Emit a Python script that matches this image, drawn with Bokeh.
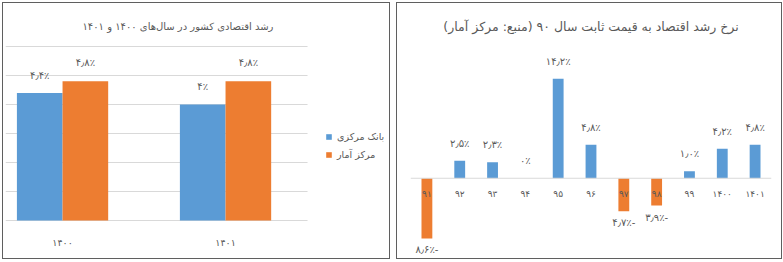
from bokeh.plotting import figure
from bokeh.models import (ColumnDataSource, FixedTicker, Legend, LegendItem,
                          Span, Range1d, BoxAnnotation)
from bokeh.layouts import row, column
from bokeh.transform import dodge
from bokeh.core.properties import value
from bokeh.embed import file_html
from bokeh.resources import INLINE

# ---------------- data ----------------
# left chart: growth 1400 & 1401 by source
left_title = "رشد اقتصادی کشور در سال‌های ۱۴۰۰ و ۱۴۰۱"
years_left = ["۱۴۰۰", "۱۴۰۱"]
series_names = ["بانک مرکزی", "مرکز آمار"]
cbi_growth = [4.4, 4.0]
sci_growth = [4.8, 4.8]
cbi_labels = ["۴٫۴٪", "۴٪"]
sci_labels = ["۴٫۸٪", "۴٫۸٪"]
left_grid_ticks = [0, 1, 2, 3, 4, 5, 6]

# right chart: growth at constant 1390 prices
right_title = "نرخ رشد اقتصاد به قیمت ثابت سال ۹۰ (منبع: مرکز آمار)"
years_right = ["۹۱", "۹۲", "۹۳", "۹۴", "۹۵", "۹۶", "۹۷", "۹۸", "۹۹", "۱۴۰۰", "۱۴۰۱"]
growth_right = [-8.6, 2.5, 2.3, 0.0, 14.2, 4.8, -4.7, -3.9, 1.0, 4.2, 4.8]
labels_right = ["۸٫۶٪-", "۲٫۵٪", "۲٫۳٪", "۰٪", "۱۴٫۲٪", "۴٫۸٪", "۴٫۷٪-", "۳٫۹٪-", "۱٫۰٪", "۴٫۲٪", "۴٫۸٪"]

# ---------------- style ----------------
BLUE = "#5B9BD5"
ORANGE = "#ED7D31"
TXT = "#595959"
GRID = "#d9d9d9"
FONT = "DejaVu Sans"
RLM = "\u200F"
BOX = {"border": "1px solid #5f5f5f", "background-color": "white"}

# ---------------- left chart ----------------
idx_l = list(range(len(years_left)))
zeros_l = [0] * len(idx_l)
src_l = ColumnDataSource(dict(idx=idx_l, zero=zeros_l, year=years_left,
                              cbi=cbi_growth, sci=sci_growth,
                              cbi_lbl=cbi_labels, sci_lbl=sci_labels))

pL = figure(width=386, height=255, x_range=Range1d(-0.35, 2.006), y_range=Range1d(-1.241, 6.034),
            output_backend="svg", toolbar_location=None,
            min_border_left=2, min_border_right=0, min_border_top=42, min_border_bottom=2)
pL.outline_line_color = None
pL.title.text = left_title
pL.title.align = "left"
pL.title.offset = 77
pL.title.standoff = 28
pL.title.text_font = FONT
pL.title.text_font_size = "10px"
pL.title.text_font_style = "normal"
pL.title.text_color = TXT

pL.xaxis.visible = False
pL.yaxis.visible = False
pL.xgrid.visible = False
pL.ygrid.ticker = FixedTicker(ticks=left_grid_ticks)
pL.ygrid.grid_line_color = GRID
# plot area ends before the legend: mask the gridlines there
pL.add_layout(BoxAnnotation(left=1.503, fill_color="white", fill_alpha=1.0,
                            line_color=None, level="underlay"))

w = 0.28
r_cbi = pL.vbar(x=dodge("idx", -w / 2), top="cbi", width=w, bottom=0, source=src_l,
                fill_color=BLUE, line_color=None)
r_sci = pL.vbar(x=dodge("idx", w / 2), top="sci", width=w, bottom=0, source=src_l,
                fill_color=ORANGE, line_color=None)
pL.text(x=dodge("idx", -w / 2), y="cbi", text="cbi_lbl", source=src_l,
        text_align="center", text_baseline="bottom", y_offset=-12,
        text_font=value(FONT), text_font_size="10px", text_color=TXT)
pL.text(x=dodge("idx", w / 2), y="sci", text="sci_lbl", source=src_l,
        text_align="center", text_baseline="bottom", y_offset=-13,
        text_font=value(FONT), text_font_size="10px", text_color=TXT)
pL.text(x="idx", y="zero", text="year", source=src_l,
        text_align="center", text_baseline="middle", y_offset=22,
        text_font=value(FONT), text_font_size="9.5px", text_color=TXT)

legend = Legend(items=[LegendItem(label=series_names[0], renderers=[r_cbi]),
                       LegendItem(label=series_names[1], renderers=[r_sci])],
                location=(320, 95), orientation="vertical",
                glyph_width=7, glyph_height=7, label_height=14, spacing=4,
                label_standoff=5, padding=0, margin=0,
                border_line_color=None, background_fill_alpha=0,
                label_text_font=FONT, label_text_font_size="9.5px",
                label_text_color=TXT)
pL.add_layout(legend, "center")

# ---------------- right chart ----------------
idx_r = list(range(len(years_right)))
zeros_r = [0] * len(idx_r)
colors_r = [BLUE if v >= 0 else ORANGE for v in growth_right]
src_r = ColumnDataSource(dict(idx=idx_r, val=growth_right, col=colors_r, zero=zeros_r,
                              year=years_right, lbl=labels_right))
pos = [i for i, v in enumerate(growth_right) if v >= 0]
neg = [i for i, v in enumerate(growth_right) if v < 0]
src_pos = ColumnDataSource(dict(idx=[idx_r[i] for i in pos], val=[growth_right[i] for i in pos],
                                lbl=[labels_right[i] for i in pos]))
src_neg = ColumnDataSource(dict(idx=[idx_r[i] for i in neg], val=[growth_right[i] for i in neg],
                                lbl=[labels_right[i] for i in neg]))

pR = figure(width=384, height=255, x_range=Range1d(-0.5, len(years_right) - 0.5),
            y_range=Range1d(-11.17, 18.67),
            output_backend="svg", toolbar_location=None,
            min_border_left=13, min_border_right=10, min_border_top=42, min_border_bottom=2)
pR.outline_line_color = None
pR.title.text = RLM + right_title + RLM
pR.title.align = "center"
pR.title.offset = 5
pR.title.standoff = 27
pR.title.text_font = FONT
pR.title.text_font_size = "12.5px"
pR.title.text_font_style = "normal"
pR.title.text_color = TXT
pR.xaxis.visible = False
pR.yaxis.visible = False
pR.grid.visible = False

pR.add_layout(Span(location=0, dimension="width", line_color=GRID, line_width=1))
pR.vbar(x="idx", top="val", bottom=0, width=0.33, source=src_r,
        fill_color="col", line_color=None)
pR.text(x="idx", y="zero", text="year", source=src_r,
        text_align="center", text_baseline="middle", y_offset=16,
        text_font=value(FONT), text_font_size="9px", text_color=TXT)
pR.text(x="idx", y="val", text="lbl", source=src_pos,
        text_align="center", text_baseline="bottom", y_offset=-12,
        text_font=value(FONT), text_font_size="10px", text_color=TXT)
pR.text(x="idx", y="val", text="lbl", source=src_neg,
        text_align="center", text_baseline="top", y_offset=6,
        text_font=value(FONT), text_font_size="10px", text_color=TXT)

boxL = column(pL, styles=BOX)
boxR = column(pR, styles=BOX)
layout = row(boxL, boxR, spacing=6, margin=(2, 0, 0, 2))

open("out.html", "w").write(file_html(layout, INLINE))
